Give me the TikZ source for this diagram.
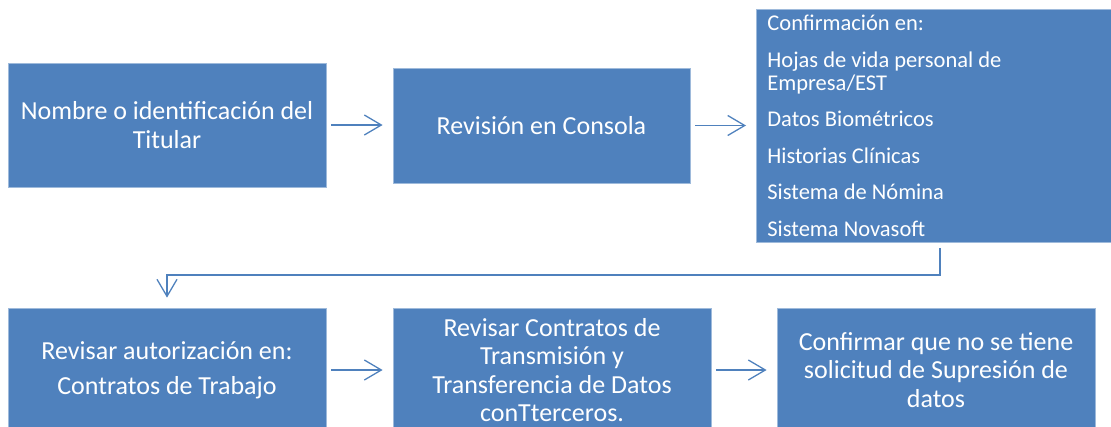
\documentclass[tikz,border=0pt]{standalone}
\usepackage{fontspec}
\setmainfont{Carlito}
\usetikzlibrary{arrows.meta}
\definecolor{boxblue}{RGB}{79,129,189}

\tikzset{
  box/.style={fill=boxblue, draw=boxblue!55, line width=0.8pt, text=white,
    align=center, inner sep=0pt, font=\fontsize{26}{29}\selectfont},
  link/.style={draw=boxblue, line width=1.3pt,
    -{Straight Barb[length=17pt,width=20pt]}, shorten <=5pt, shorten >=10pt}
}

\begin{document}
\begin{tikzpicture}[x=1pt,y=-1pt]
	\useasboundingbox (0,0) rectangle (1111,426);

	% first row
	\node[box, minimum width=318pt, minimum height=124pt] (titular) at (167,125)
		{Nombre o identificación del\\Titular};
	\node[box, minimum width=297pt, minimum height=115pt] (consola) at (541.5,125.5)
		{Revisión en Consola};
	\node[box, anchor=north west, align=flush left, text width=338pt, inner xsep=11pt,
		minimum height=233pt, font=\fontsize{22.5}{23}\selectfont] (confirma) at (756,9)
		{Confirmación en:\\[13.5pt]Hojas de vida personal de\\Empresa/EST\\[13.5pt]Datos Biométricos\\[13.5pt]Historias Clínicas\\[13.5pt]Sistema de Nómina\\[13.5pt]Sistema Novasoft};

	% second row
	\node[box, minimum width=318pt, minimum height=124pt] (autoriza) at (167,370)
		{Revisar autorización en:\\[6pt]Contratos de Trabajo};
	\node[box, minimum width=318pt, minimum height=124pt, font=\fontsize{26}{28.5}\selectfont] (contratos) at (552,370)
		{Revisar Contratos de\\Transmisión y\\Transferencia de Datos\\conTterceros.};
	\node[box, minimum width=318pt, minimum height=124pt, font=\fontsize{26}{28.5}\selectfont] (supresion) at (936,370)
		{Confirmar que no se tiene\\solicitud de Supresión de\\datos};

	\coordinate (bend) at (940,275);

	\draw[link] (titular.east) -- (titular.east -| consola.west);
	\draw[link] (consola.east) -- (consola.east -| confirma.west);
	\draw[link] (confirma.south -| bend) -- (bend) -| (autoriza.north);
	\draw[link] (autoriza.east) -- (contratos.west);
	\draw[link] (contratos.east) -- (supresion.west);
\end{tikzpicture}
\end{document}
